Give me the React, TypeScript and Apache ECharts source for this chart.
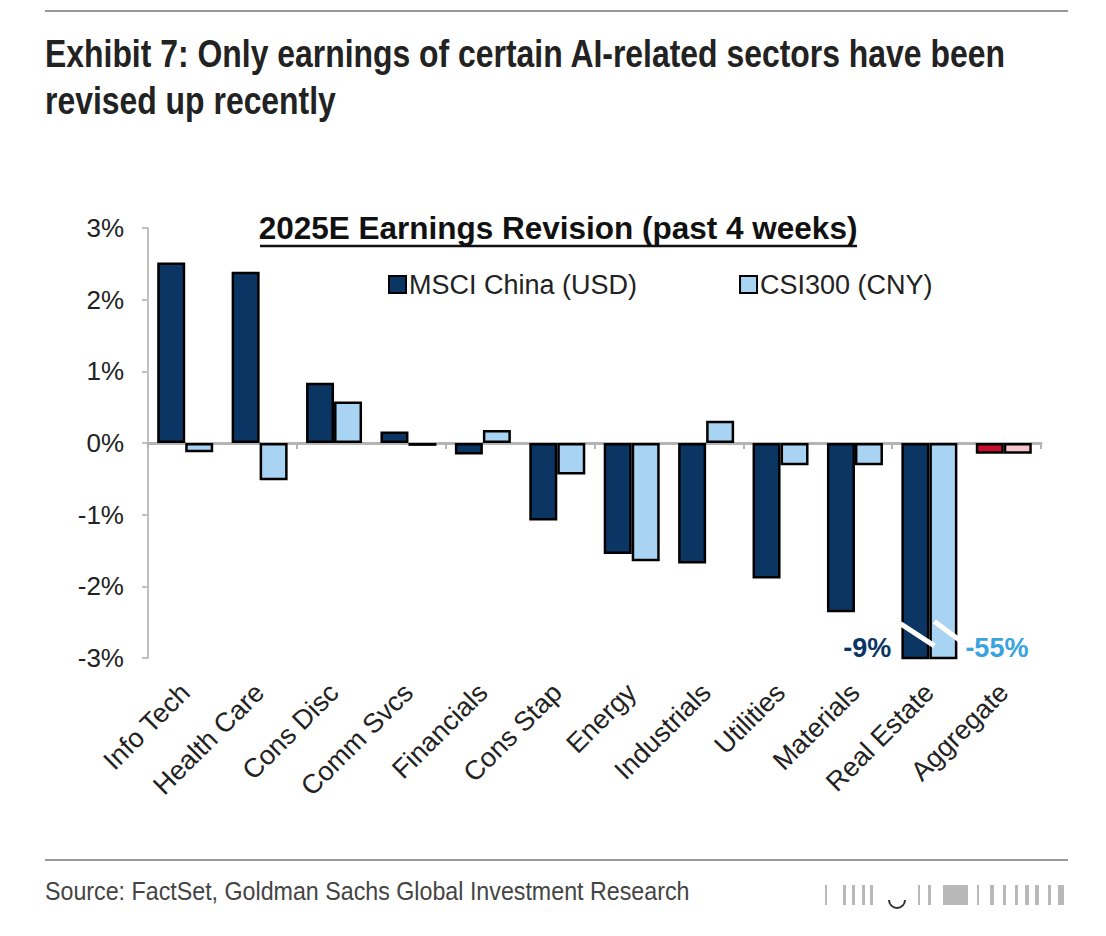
import React, { useEffect, useRef } from "react";
import * as echarts from "echarts";

const categories = [
  "Info Tech", "Health Care", "Cons Disc", "Comm Svcs", "Financials", "Cons Stap",
  "Energy", "Industrials", "Utilities", "Materials", "Real Estate", "Aggregate",
];
const msciValues = [2.52, 2.39, 0.84, 0.16, -0.16, -1.08, -1.55, -1.68, -1.89, -2.36, -9, -0.15];
const csiValues = [-0.13, -0.52, 0.58, -0.04, 0.18, -0.44, -1.65, 0.31, -0.31, -0.31, -55, -0.15];
const yTicks = [-3, -2, -1, 0, 1, 2, 3];
const seriesNames = ["MSCI China (USD)", "CSI300 (CNY)"];
const breakCategory = "Real Estate";
const aggregateCategory = "Aggregate";

const NAVY = "#0b3563";
const LIGHT = "#a8d3f2";
const RED = "#c8102e";
const PINK = "#f6c5cb";
const SANS = "'Liberation Sans', Arial, sans-serif";

export default function App() {
  const ref = useRef<HTMLDivElement>(null);
  useEffect(() => {
    document.body.style.margin = "0";
    const el = ref.current!;
    const chart = echarts.init(el, null, { renderer: "svg" });
    const aggIdx = categories.indexOf(aggregateCategory);
    const mkData = (vals: number[], aggColor: string) =>
      vals.map((v, i) => (i === aggIdx ? { value: v, itemStyle: { color: aggColor } } : v));

    const barcode: any[] = [];
    const bars = [
      [825, 2], [843, 3], [852, 3], [862, 3], [870, 3], [918, 2], [928, 3], [943, 25], [977, 2],
      [990, 4], [1003, 3], [1015, 3], [1025, 4], [1035, 4], [1048, 3], [1058, 6],
    ];
    bars.forEach(([x, w], k) =>
      barcode.push({
        id: "bc" + k,
        type: "rect",
        shape: { x, y: 885, width: w, height: 20 },
        style: { fill: "#9a9a9a", opacity: 0.7 },
      })
    );
    barcode.push({
      id: "bcarc",
      type: "arc",
      shape: { cx: 897, cy: 900, r: 8, startAngle: 0, endAngle: Math.PI },
      style: { stroke: "#333", lineWidth: 2, fill: "none" },
    });

    const baseGraphic: any[] = [
      { id: "topline", type: "line", shape: { x1: 45, y1: 11, x2: 1068, y2: 11 }, style: { stroke: "#999", lineWidth: 2 } },
      {
        id: "h1",
        type: "text",
        x: 45,
        y: 34,
        scaleX: 0.84,
        style: {
          text: "Exhibit 7: Only earnings of certain AI-related sectors have been",
          font: `bold 38px ${SANS}`,
          fill: "#222",
        },
      },
      {
        id: "h2",
        type: "text",
        x: 45,
        y: 81,
        scaleX: 0.84,
        style: { text: "revised up recently", font: `bold 38px ${SANS}`, fill: "#222" },
      },
      {
        id: "ctitle",
        type: "text",
        x: 558,
        y: 212,
        style: {
          text: "2025E Earnings Revision (past 4 weeks)",
          font: `bold 31.5px ${SANS}`,
          fill: "#111",
          align: "center",
        },
      },
      { id: "uline", type: "line", shape: { x1: 260, y1: 246, x2: 857, y2: 246 }, style: { stroke: "#111", lineWidth: 2.5 } },
      { id: "botline", type: "line", shape: { x1: 45, y1: 860, x2: 1068, y2: 860 }, style: { stroke: "#999", lineWidth: 2 } },
      {
        id: "source",
        type: "text",
        x: 45,
        y: 879,
        scaleX: 0.93,
        style: {
          text: "Source: FactSet, Goldman Sachs Global Investment Research",
          font: `25px ${SANS}`,
          fill: "#444",
        },
      },
      ...barcode,
    ];

    chart.setOption({
      animation: false,
      backgroundColor: "#fff",
      grid: { left: 148, right: 65, top: 228, bottom: 278, containLabel: false },
      legend: {
        left: 383,
        top: 266,
        itemWidth: 17,
        itemHeight: 17,
        itemGap: 102,
        icon: "rect",
        textStyle: { fontFamily: SANS, fontSize: 27, color: "#222", padding: [0, 0, 0, -2] },
        data: seriesNames,
      },
      xAxis: [
        {
          type: "category",
          data: categories,
          boundaryGap: true,
          axisLine: { onZero: true, onZeroAxisIndex: 0, lineStyle: { color: "#b4b4b4", width: 3 } },
          axisTick: { show: true, length: 6, lineStyle: { color: "#b4b4b4", width: 2 } },
          axisLabel: { show: false },
        },
        {
          type: "category",
          data: categories,
          position: "bottom",
          boundaryGap: true,
          axisLine: { show: false, onZero: false },
          axisTick: { show: false },
          axisLabel: {
            rotate: 45,
            margin: 30,
            fontFamily: SANS,
            fontSize: 27,
            color: "#222",
            interval: 0,
          },
        },
      ],
      yAxis: {
        type: "value",
        min: yTicks[0],
        max: yTicks[yTicks.length - 1],
        interval: 1,
        axisLine: { show: true, lineStyle: { color: "#c0c0c0", width: 2 } },
        axisTick: { show: true, length: 6, lineStyle: { color: "#c0c0c0", width: 2 } },
        splitLine: { show: false },
        axisLabel: {
          formatter: "{value}%",
          fontFamily: SANS,
          fontSize: 26,
          color: "#222",
          margin: 24,
        },
      },
      series: [
        {
          name: seriesNames[0],
          type: "bar",
          data: mkData(msciValues, RED),
          barWidth: 28,
          barGap: "0%",
          clip: true,
          itemStyle: { color: NAVY, borderColor: "#000", borderWidth: 2.5 },
        },
        {
          name: seriesNames[1],
          type: "bar",
          data: mkData(csiValues, PINK),
          barWidth: 28,
          barGap: "0%",
          clip: true,
          itemStyle: { color: LIGHT, borderColor: "#000", borderWidth: 2.5 },
        },
      ],
      graphic: baseGraphic,
    });

    // Axis-break marks and off-scale value labels for the Real Estate bars
    const ri = categories.indexOf(breakCategory);
    const px = (v: number) =>
      chart.convertToPixel({ xAxisIndex: 0, yAxisIndex: 0 }, [breakCategory, v]) as number[];
    const cx = px(0)[0];
    const y = (v: number) => px(v)[1];
    const breakGraphic: any[] = [
      {
        id: "brk1",
        type: "line",
        shape: { x1: cx - 29, y1: y(-2.52), x2: cx + 5, y2: y(-2.83) },
        style: { stroke: "#fff", lineWidth: 5 },
        z: 100,
      },
      {
        id: "brk2",
        type: "line",
        shape: { x1: cx + 5, y1: y(-2.49), x2: cx + 30, y2: y(-2.75) },
        style: { stroke: "#fff", lineWidth: 5 },
        z: 100,
      },
      {
        id: "lbl1",
        type: "text",
        x: cx - 38,
        y: y(-2.86),
        style: {
          text: `${msciValues[ri]}%`,
          font: `bold 27px ${SANS}`,
          fill: NAVY,
          align: "right",
          verticalAlign: "middle",
        },
        z: 100,
      },
      {
        id: "lbl2",
        type: "text",
        x: cx + 36,
        y: y(-2.86),
        style: {
          text: `${csiValues[ri]}%`,
          font: `bold 27px ${SANS}`,
          fill: "#3aa3de",
          align: "left",
          verticalAlign: "middle",
        },
        z: 100,
      },
    ];
    chart.setOption({ graphic: [...baseGraphic, ...breakGraphic] }, { replaceMerge: ["graphic"] });

    return () => chart.dispose();
  }, []);
  return <div ref={ref} style={{ width: 1106, height: 936 }} />;
}
